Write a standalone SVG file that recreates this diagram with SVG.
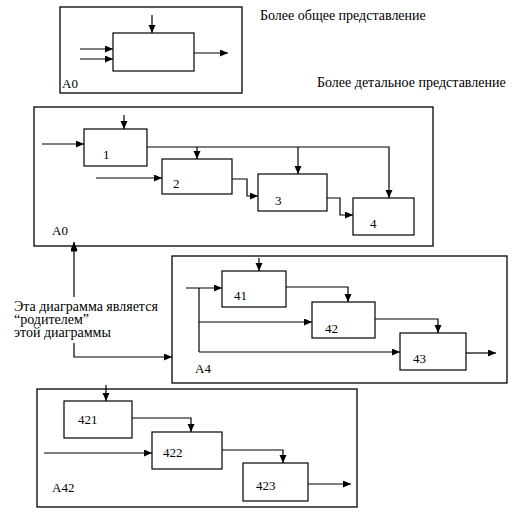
<svg xmlns="http://www.w3.org/2000/svg" width="522" height="517" viewBox="0 0 522 517">
<style>
.frame{fill:none;stroke:#000;stroke-width:1.3}
.box{fill:#fff;stroke:#000;stroke-width:1.2}
.ln{fill:none;stroke:#000;stroke-width:1.2}
.t{font-family:"Liberation Serif","Times New Roman",serif;font-size:14px;fill:#000}
.n{font-family:"Liberation Serif","Times New Roman",serif;font-size:13px;fill:#000}
</style>
<defs>
<marker id="ah" markerUnits="userSpaceOnUse" markerWidth="9" markerHeight="8" refX="8" refY="3.5" orient="auto">
<path d="M0,0 L8,3.5 L0,7 z" fill="#000"/>
</marker>
</defs>
<rect width="522" height="517" fill="#fff"/>

<text class="t" x="260" y="20">Более общее представление</text>
<text class="t" x="317" y="87">Более детальное представление</text>

<g id="frameA0top">
<rect class="frame" x="60" y="7" width="182" height="86"/>
<text class="n" x="62" y="88">A0</text>
</g>
<g id="nodeA0top">
<rect class="box" x="113" y="33" width="81" height="38"/>
</g>

<g id="frameA0">
<rect class="frame" x="34" y="107" width="399" height="139"/>
<text class="n" x="52" y="235">A0</text>
</g>
<g id="node1"><rect class="box" x="84" y="129" width="63" height="37"/><text class="n" x="103" y="159">1</text></g>
<g id="node2"><rect class="box" x="162" y="159" width="70" height="35"/><text class="n" x="173" y="188">2</text></g>
<g id="node3"><rect class="box" x="258" y="174" width="69" height="37"/><text class="n" x="275" y="205">3</text></g>
<g id="node4"><rect class="box" x="353" y="198" width="61" height="37"/><text class="n" x="370" y="228">4</text></g>

<g id="frameA4">
<rect class="frame" x="172" y="256" width="335" height="127"/>
<text class="n" x="195" y="373">A4</text>
</g>
<g id="node41"><rect class="box" x="222" y="271" width="64" height="36"/><text class="n" x="234" y="300">41</text></g>
<g id="node42"><rect class="box" x="312" y="302" width="63" height="36"/><text class="n" x="325" y="333">42</text></g>
<g id="node43"><rect class="box" x="400" y="333" width="66" height="37"/><text class="n" x="413" y="363">43</text></g>

<g id="frameA42">
<rect class="frame" x="37" y="389" width="320" height="118"/>
<text class="n" x="52" y="492">A42</text>
</g>
<g id="node421"><rect class="box" x="64" y="401" width="68" height="37"/><text class="n" x="78" y="424">421</text></g>
<g id="node422"><rect class="box" x="152" y="432" width="70" height="37"/><text class="n" x="163" y="457">422</text></g>
<g id="node423"><rect class="box" x="243" y="463" width="65" height="38"/><text class="n" x="256" y="490">423</text></g>

<g id="parentNote">
<text class="t" x="14" y="311">Эта диаграмма является</text>
<text class="t" x="14" y="324">“родителем”</text>
<text class="t" x="14" y="337">этой диаграммы</text>
</g>

<g id="connectors">
<!-- top diagram -->
<line class="ln" x1="152" y1="15" x2="152" y2="33" marker-end="url(#ah)"/>
<line class="ln" x1="80" y1="49" x2="113" y2="49" marker-end="url(#ah)"/>
<line class="ln" x1="80" y1="59" x2="113" y2="59" marker-end="url(#ah)"/>
<line class="ln" x1="194" y1="53" x2="228" y2="53" marker-end="url(#ah)"/>
<!-- A0 -->
<line class="ln" x1="124" y1="115" x2="124" y2="129" marker-end="url(#ah)"/>
<line class="ln" x1="42" y1="144" x2="84" y2="144" marker-end="url(#ah)"/>
<polyline class="ln" points="147,147 389,147 389,198" marker-end="url(#ah)"/>
<line class="ln" x1="197" y1="147" x2="197" y2="159" marker-end="url(#ah)"/>
<line class="ln" x1="298" y1="147" x2="298" y2="174" marker-end="url(#ah)"/>
<line class="ln" x1="96" y1="178" x2="162" y2="178" marker-end="url(#ah)"/>
<polyline class="ln" points="232,179 247,179 247,196 258,196" marker-end="url(#ah)"/>
<polyline class="ln" points="327,198 340,198 340,215 353,215" marker-end="url(#ah)"/>
<!-- parent link -->
<line class="ln" x1="74" y1="297" x2="74" y2="242" marker-end="url(#ah)"/>
<line x1="71" y1="250.5" x2="77" y2="250.5" stroke="#000" stroke-width="2"/>
<polyline class="ln" points="74,343 74,357 172,357" marker-end="url(#ah)"/>
<!-- A4 -->
<line class="ln" x1="259" y1="258" x2="259" y2="271" marker-end="url(#ah)"/>
<line class="ln" x1="186" y1="288" x2="222" y2="288" marker-end="url(#ah)"/>
<line class="ln" x1="199" y1="288" x2="199" y2="352"/>
<line class="ln" x1="199" y1="322" x2="312" y2="322" marker-end="url(#ah)"/>
<line class="ln" x1="199" y1="352" x2="400" y2="352" marker-end="url(#ah)"/>
<polyline class="ln" points="286,287 348,287 348,302" marker-end="url(#ah)"/>
<polyline class="ln" points="375,319 438,319 438,333" marker-end="url(#ah)"/>
<line class="ln" x1="466" y1="353" x2="496" y2="353" marker-end="url(#ah)"/>
<!-- A42 -->
<line class="ln" x1="106" y1="385" x2="106" y2="401" marker-end="url(#ah)"/>
<polyline class="ln" points="132,418 191,418 191,432" marker-end="url(#ah)"/>
<line class="ln" x1="44" y1="453" x2="152" y2="453" marker-end="url(#ah)"/>
<polyline class="ln" points="222,450 283,450 283,463" marker-end="url(#ah)"/>
<line class="ln" x1="308" y1="484" x2="351" y2="484" marker-end="url(#ah)"/>
</g>
</svg>
